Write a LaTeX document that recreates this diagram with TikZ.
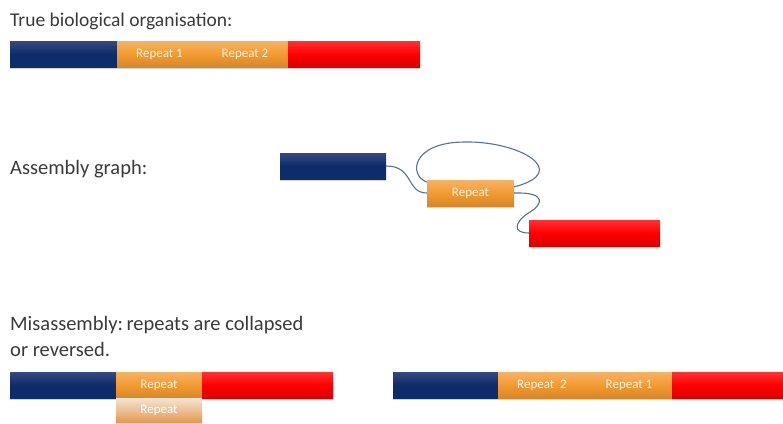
\documentclass[tikz,border=0pt]{standalone}
\usepackage{fontspec}
\setmainfont{Carlito}
\usetikzlibrary{shadows}

\definecolor{contigblue}{HTML}{0E2B6A}
\definecolor{contigred}{HTML}{FF0000}
\definecolor{repeatorange}{HTML}{F39A30}
\definecolor{ghosttop}{HTML}{F3E4D6}
\definecolor{ghostmid}{HTML}{E9BC90}
\definecolor{ghostbottom}{HTML}{E59A52}
\definecolor{edgegray}{HTML}{5A7090}
\definecolor{titlegray}{HTML}{3A3A3A}

\begin{document}
\begin{tikzpicture}[x=1pt, y=-1pt, line join=bevel]
	\tikzstyle{bar} = [minimum height=26pt, inner sep=0pt, font=\fontsize{13}{15}\selectfont, text=white!90!orange,
		drop shadow={shadow xshift=0pt, shadow yshift=-1.5pt, opacity=0.35}];
	\tikzstyle{blue_bar} = [bar, top color=contigblue!85!white, bottom color=contigblue, middle color=contigblue];
	\tikzstyle{red_bar} = [bar, top color=red!80!white, bottom color=red!85!black, middle color=contigred];
	\tikzstyle{repeat_bar} = [bar, top color=repeatorange!75!white, bottom color=repeatorange!88!black, middle color=repeatorange];
	\tikzstyle{ghost_bar} = [bar, minimum height=24pt, drop shadow={opacity=0}, text=white, top color=ghosttop, middle color=ghostmid, bottom color=ghostbottom];
	\tikzstyle{title} = [anchor=base west, inner sep=0pt, text=titlegray, font=\fontsize{20.5}{24}\selectfont];
	\tikzstyle{link} = [draw=edgegray, line width=1.1pt];

	\useasboundingbox (0,0) rectangle (783,423);

	% true organisation
	\node[title, font=\fontsize{19.5}{23}\selectfont] at (10,26) (t1) {True biological organisation:};
	\node[blue_bar, minimum width=107pt] at (63.5,54) (b1) {};
	\node[repeat_bar, minimum width=85pt] at (159.5,54) (r1a) {Repeat 1};
	\node[repeat_bar, minimum width=86pt] at (245,54) (r1b) {Repeat 2};
	\node[red_bar, minimum width=132pt] at (354,54) (e1) {};

	% assembly graph
	\node[title] at (10,174) (t2) {Assembly graph:};
	\node[blue_bar, minimum width=106pt] at (333,166) (gb) {};
	\node[repeat_bar, minimum width=87pt] at (470.5,193) (gr) {Repeat};
	\node[red_bar, minimum width=131pt] at (594.5,233) (ge) {};
	\draw[link] (gb.east) .. controls (414,166) and (406,193) .. (gr.west);
	\draw[link] (gr.166) .. controls (408,175) and (412,142) .. (465,142)
		.. controls (520,141) and (572,172) .. (gr.8);
	\draw[link] (gr.east) .. controls (548,192) and (542,205) .. (530,212)
		.. controls (514,222) and (512,233) .. (ge.west);

	% misassembly
	\node[title] at (10,330) (t3) {Misassembly:\,repeats are collapsed};
	\node[title] at (10,356) (t4) {or reversed.};
	\node[blue_bar, minimum width=106pt] at (63,385) (mb) {};
	\node[repeat_bar, minimum width=86pt] at (159,385) (mr) {Repeat};
	\node[red_bar, minimum width=131pt] at (267.5,385) (me) {};
	\node[ghost_bar, minimum width=86pt] at (159,410) (mg) {Repeat};

	\node[blue_bar, minimum width=105pt] at (445.5,385) (vb) {};
	\node[repeat_bar, minimum width=88pt] at (542,385) (vr2) {Repeat~~2};
	\node[repeat_bar, minimum width=86pt] at (629,385) (vr1) {Repeat 1};
	\node[red_bar, minimum width=112pt] at (728,385) (ve) {};
\end{tikzpicture}
\end{document}
